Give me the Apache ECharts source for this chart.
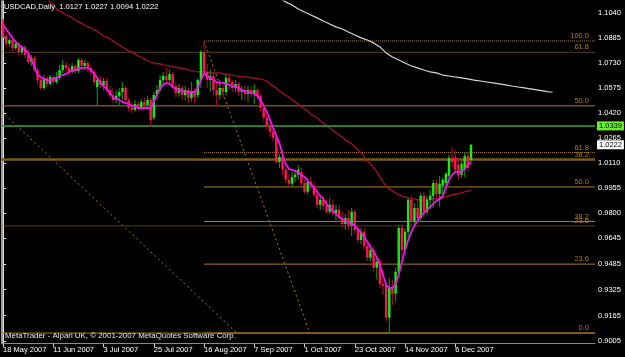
<!DOCTYPE html>
<html><head><meta charset="utf-8">
<script src="https://cdn.jsdelivr.net/npm/echarts@6/dist/echarts.min.js"></script>
<style>html,body{margin:0;padding:0;background:#000;}#c{width:625px;height:357px;}</style>
</head><body><div id="c"></div>
<script>
// ---- x axis (bar index -> date label) ----
const dateLabels = ['18 May 2007','11 Jun 2007','3 Jul 2007','25 Jul 2007','16 Aug 2007','7 Sep 2007','1 Oct 2007','23 Oct 2007','14 Nov 2007','6 Dec 2007'];
const dateLabelBars = [0,16,32,48,64,80,96,112,128,144];
const priceTicks = [0.9005,0.9165,0.9325,0.9485,0.9645,0.9800,0.9955,1.0110,1.0265,1.0420,1.0575,1.0730,1.0885,1.1040];

// ---- daily candles USDCAD ----
const open = [
1.0983,1.0896,1.0847,1.0871,1.0822,1.0847,1.0797,1.0828,1.0778,1.0735,
1.0760,1.0685,1.0623,1.0574,1.0636,1.0599,1.0642,1.0611,1.0636,1.0685,
1.0716,1.0698,1.0673,1.0710,1.0679,1.0747,1.0710,1.0729,1.0698,1.0673,
1.0580,1.0623,1.0593,1.0617,1.0562,1.0531,1.0500,1.0525,1.0549,1.0574,
1.0500,1.0450,1.0438,1.0475,1.0457,1.0488,1.0469,1.0500,1.0389,1.0531,
1.0562,1.0623,1.0648,1.0623,1.0661,1.0586,1.0543,1.0574,1.0531,1.0562,
1.0512,1.0549,1.0531,1.0623,1.0797,1.0673,1.0623,1.0648,1.0562,1.0531,
1.0574,1.0549,1.0636,1.0611,1.0574,1.0599,1.0549,1.0562,1.0537,1.0562,
1.0537,1.0562,1.0525,1.0450,1.0389,1.0339,1.0302,1.0265,1.0116,1.0147,
1.0067,1.0005,0.9980,1.0023,1.0036,1.0054,0.9986,0.9931,0.9993,0.9968,
0.9912,0.9850,0.9881,0.9844,0.9807,0.9850,0.9800,0.9819,0.9769,0.9732,
0.9769,0.9720,0.9807,0.9695,0.9633,0.9683,0.9596,0.9522,0.9571,0.9460,
0.9497,0.9361,0.9349,0.9151,0.9336,0.9299,0.9435,0.9707,0.9571,0.9683,
0.9881,0.9745,0.9831,0.9769,0.9906,0.9807,0.9881,0.9906,0.9986,0.9918,
0.9968,0.9986,1.0030,1.0141,1.0141,1.0098,1.0036,1.0067,1.0153,1.0127];
const close = [
1.0896,1.0847,1.0871,1.0822,1.0847,1.0797,1.0828,1.0778,1.0735,1.0760,
1.0685,1.0623,1.0574,1.0636,1.0599,1.0642,1.0611,1.0636,1.0685,1.0716,
1.0698,1.0673,1.0710,1.0679,1.0747,1.0710,1.0729,1.0698,1.0673,1.0611,
1.0623,1.0593,1.0617,1.0562,1.0531,1.0500,1.0525,1.0549,1.0574,1.0500,
1.0450,1.0438,1.0475,1.0457,1.0488,1.0469,1.0500,1.0376,1.0531,1.0562,
1.0623,1.0648,1.0623,1.0661,1.0586,1.0543,1.0574,1.0531,1.0562,1.0512,
1.0549,1.0518,1.0623,1.0797,1.0673,1.0623,1.0648,1.0562,1.0531,1.0574,
1.0549,1.0636,1.0611,1.0574,1.0599,1.0549,1.0562,1.0537,1.0562,1.0537,
1.0562,1.0525,1.0450,1.0389,1.0339,1.0302,1.0265,1.0116,1.0147,1.0067,
1.0005,0.9980,1.0023,1.0036,1.0067,0.9986,0.9931,0.9993,0.9968,0.9912,
0.9850,0.9881,0.9844,0.9807,0.9850,0.9800,0.9819,0.9769,0.9732,0.9769,
0.9720,0.9807,0.9695,0.9633,0.9683,0.9596,0.9522,0.9571,0.9460,0.9497,
0.9361,0.9349,0.9151,0.9336,0.9299,0.9435,0.9707,0.9571,0.9683,0.9881,
0.9745,0.9831,0.9769,0.9906,0.9807,0.9881,0.9906,0.9986,0.9918,0.9980,
1.0005,1.0042,1.0141,1.0116,1.0067,1.0030,1.0104,1.0153,1.0079,1.0222];
const high = [
1.1001,1.0909,1.0884,1.0884,1.0871,1.0859,1.0840,1.0840,1.0809,1.0778,
1.0772,1.0698,1.0648,1.0654,1.0648,1.0654,1.0654,1.0673,1.0716,1.0747,
1.0735,1.0723,1.0729,1.0723,1.0760,1.0760,1.0747,1.0741,1.0710,1.0685,
1.0642,1.0648,1.0636,1.0636,1.0586,1.0574,1.0562,1.0574,1.0611,1.0586,
1.0512,1.0488,1.0500,1.0494,1.0506,1.0512,1.0525,1.0512,1.0549,1.0593,
1.0654,1.0673,1.0698,1.0685,1.0673,1.0611,1.0599,1.0586,1.0586,1.0574,
1.0611,1.0574,1.0636,1.0809,1.0865,1.0723,1.0685,1.0673,1.0611,1.0623,
1.0599,1.0661,1.0667,1.0623,1.0623,1.0611,1.0586,1.0593,1.0586,1.0586,
1.0599,1.0574,1.0537,1.0475,1.0413,1.0364,1.0327,1.0296,1.0166,1.0191,
1.0098,1.0036,1.0054,1.0067,1.0098,1.0079,1.0005,1.0017,1.0023,0.9993,
0.9955,0.9906,0.9906,0.9881,0.9893,0.9881,0.9850,0.9850,0.9807,0.9794,
0.9819,0.9831,0.9819,0.9720,0.9707,0.9707,0.9621,0.9602,0.9596,0.9522,
0.9522,0.9448,0.9367,0.9398,0.9386,0.9460,0.9720,0.9732,0.9707,0.9893,
0.9906,0.9862,0.9881,0.9924,0.9931,0.9906,0.9943,1.0005,1.0005,1.0030,
1.0017,1.0054,1.0160,1.0209,1.0191,1.0141,1.0129,1.0178,1.0178,1.0227];
const low = [
1.0884,1.0828,1.0828,1.0803,1.0809,1.0778,1.0778,1.0760,1.0723,1.0710,
1.0673,1.0599,1.0562,1.0562,1.0580,1.0586,1.0593,1.0599,1.0623,1.0667,
1.0673,1.0648,1.0661,1.0661,1.0667,1.0692,1.0685,1.0673,1.0648,1.0593,
1.0469,1.0574,1.0562,1.0549,1.0512,1.0481,1.0481,1.0469,1.0500,1.0475,
1.0432,1.0419,1.0426,1.0432,1.0438,1.0444,1.0450,1.0333,1.0376,1.0500,
1.0549,1.0599,1.0605,1.0599,1.0574,1.0518,1.0518,1.0500,1.0500,1.0481,
1.0488,1.0481,1.0512,1.0574,1.0648,1.0574,1.0549,1.0531,1.0457,1.0500,
1.0512,1.0525,1.0562,1.0549,1.0549,1.0525,1.0500,1.0500,1.0488,1.0512,
1.0475,1.0500,1.0426,1.0364,1.0314,1.0271,1.0240,1.0104,1.0079,1.0036,
0.9986,0.9962,0.9962,0.9993,1.0005,0.9968,0.9918,0.9912,0.9943,0.9893,
0.9831,0.9819,0.9819,0.9794,0.9794,0.9782,0.9757,0.9745,0.9707,0.9695,
0.9695,0.9658,0.9670,0.9615,0.9608,0.9571,0.9503,0.9497,0.9435,0.9386,
0.9336,0.9293,0.9126,0.9056,0.9231,0.9250,0.9398,0.9522,0.9540,0.9646,
0.9707,0.9720,0.9745,0.9745,0.9769,0.9788,0.9819,0.9831,0.9893,0.9838,
0.9893,0.9962,0.9986,1.0085,1.0048,1.0005,1.0017,1.0023,1.0054,1.0094];

// ---- moving averages as drawn ----
const maFast = [
1.0964,1.0939,1.0909,1.0884,1.0859,1.0840,1.0828,1.0809,1.0791,1.0747,
1.0704,1.0654,1.0642,1.0630,1.0623,1.0623,1.0630,1.0636,1.0648,1.0654,
1.0661,1.0673,1.0679,1.0685,1.0692,1.0698,1.0698,1.0698,1.0685,1.0661,
1.0636,1.0605,1.0586,1.0568,1.0543,1.0518,1.0506,1.0500,1.0488,1.0481,
1.0475,1.0463,1.0457,1.0450,1.0450,1.0450,1.0450,1.0444,1.0488,1.0531,
1.0574,1.0593,1.0605,1.0599,1.0580,1.0568,1.0562,1.0556,1.0549,1.0549,
1.0549,1.0549,1.0574,1.0623,1.0667,1.0648,1.0636,1.0623,1.0611,1.0605,
1.0605,1.0599,1.0593,1.0586,1.0580,1.0574,1.0562,1.0556,1.0549,1.0543,
1.0537,1.0525,1.0500,1.0463,1.0426,1.0376,1.0327,1.0277,1.0234,1.0160,
1.0104,1.0073,1.0067,1.0061,1.0048,1.0036,1.0023,0.9999,0.9980,0.9955,
0.9931,0.9906,0.9887,0.9856,0.9831,0.9813,0.9794,0.9776,0.9763,0.9751,
0.9745,0.9732,0.9720,0.9701,0.9677,0.9652,0.9621,0.9590,0.9559,0.9528,
0.9478,0.9417,0.9355,0.9336,0.9336,0.9361,0.9417,0.9497,0.9571,0.9633,
0.9683,0.9720,0.9751,0.9782,0.9800,0.9819,0.9838,0.9856,0.9875,0.9887,
0.9906,0.9955,1.0005,1.0036,1.0054,1.0054,1.0054,1.0073,1.0098,1.0116];
const maMid = [
null,null,null,null,null,null,null,null,null,null,
null,null,null,null,1.1125,1.1107,1.1088,1.1063,1.1051,1.1039,
1.1026,1.1020,1.1008,1.0995,1.0983,1.0977,1.0964,1.0952,1.0946,1.0933,
1.0927,1.0909,1.0896,1.0890,1.0878,1.0865,1.0853,1.0840,1.0828,1.0816,
1.0803,1.0797,1.0785,1.0772,1.0766,1.0754,1.0741,1.0735,1.0729,1.0723,
1.0723,1.0716,1.0716,1.0710,1.0704,1.0704,1.0698,1.0692,1.0692,1.0685,
1.0679,1.0679,1.0673,1.0673,1.0673,1.0673,1.0667,1.0667,1.0667,1.0667,
1.0661,1.0661,1.0654,1.0654,1.0648,1.0648,1.0642,1.0642,1.0642,1.0636,
1.0636,1.0630,1.0630,1.0623,1.0617,1.0599,1.0586,1.0574,1.0556,1.0543,
1.0531,1.0518,1.0500,1.0488,1.0475,1.0457,1.0444,1.0432,1.0413,1.0401,
1.0389,1.0370,1.0358,1.0339,1.0327,1.0314,1.0296,1.0283,1.0271,1.0252,
1.0240,1.0228,1.0209,1.0191,1.0172,1.0147,1.0123,1.0104,1.0079,1.0054,
1.0023,0.9993,0.9968,0.9949,0.9937,0.9924,0.9912,0.9906,0.9900,0.9893,
0.9887,0.9887,0.9881,0.9881,0.9881,0.9881,0.9881,0.9887,0.9887,0.9887,
0.9893,0.9900,0.9906,0.9912,0.9918,0.9918,0.9924,0.9931,0.9937,0.9937];
const maSlowBars = [89,90,92,94,96,98,100,102,104,106,108,110,112,114,116,118,120,122,124,126,128,130,132,134,136,138,140,142,144,146,148,150,152,154,156,158,160,162,164,166,168,170,172,174,175];
const maSlowVals = [1.1119,1.1107,1.1088,1.1063,1.1044,1.1026,1.1008,1.0989,1.0970,1.0952,1.0939,1.0921,1.0902,1.0884,1.0871,1.0853,1.0828,1.0791,1.0766,1.0747,1.0729,1.0710,1.0698,1.0685,1.0673,1.0667,1.0654,1.0648,1.0642,1.0636,1.0630,1.0623,1.0617,1.0611,1.0605,1.0599,1.0593,1.0586,1.0580,1.0574,1.0568,1.0562,1.0556,1.0549,1.0549];

// ---- drawn objects ----
const fibALabels = ['100.0','61.8','50.0','38.2','23.6','0.0'];
const fibAValues = [1.0865,1.0174,0.9961,0.9747,0.9483,0.9056];
const fibAStartBar = 64;
const fibBLabels = ['61.8','50.0','38.2','23.6',''];
const fibBValues = [1.0795,1.0463,1.0131,0.9720,0.9056];
const trendA = [[64,1.0865],[97.7,0.9056]];
const trendB = [[-0.5,1.0429],[74.5,0.9056]];
const hLineValue = 1.0339;
const lastPrice = 1.0222;
const titleText = 'USDCAD,Daily  1.0127 1.0227 1.0094 1.0222';
const footerText = 'MetaTrader - Alpari UK, \u00a9 2001-2007 MetaQuotes Software Corp.';

const FONT = 'Liberation Sans, Arial, sans-serif';
const FIB = '#a87c1c';
const X_END = 188.5;
const candleData = open.map((o, i) => [i, o, close[i], low[i], high[i]]);

function levelSeries(startBar, v, text, style) {
  return {
    type: 'line', silent: true, showSymbol: false, symbol: 'none', clip: false, z: 1,
    data: [[startBar, v], [X_END, v]],
    lineStyle: style,
    markPoint: text ? {
      silent: true, symbol: 'circle', symbolSize: 0,
      data: [{coord: [X_END, v]}],
      label: {show: true, position: 'left', offset: [-1, -5], formatter: text, color: FIB, fontSize: 7.5, fontFamily: FONT}
    } : undefined
  };
}

const drawSeries = [];
fibAValues.forEach((v, k) => {
  drawSeries.push(levelSeries(fibAStartBar, v, fibALabels[k],
    {color: FIB, width: 1, type: (k <= 1) ? 'dotted' : 'solid'}));
});
fibBValues.forEach((v, k) => {
  drawSeries.push(levelSeries(-0.5, v, fibBLabels[k],
    {color: k === 2 ? '#7a5a12' : FIB, width: k === 2 ? 2.5 : 1, type: (k === 0 || k === 3) ? 'dotted' : 'solid'}));
});
[trendA, trendB].forEach(t => {
  drawSeries.push({type: 'line', silent: true, showSymbol: false, symbol: 'none', z: 1, data: t,
    lineStyle: {color: FIB, width: 1, type: [2, 3]}});
});
function priceTag(v, bg, lineStyle) {
  return {
    type: 'line', silent: true, showSymbol: false, symbol: 'none', z: 3, clip: false,
    data: [[-0.5, v], [X_END, v]], lineStyle: lineStyle,
    markPoint: {silent: true, symbol: 'circle', symbolSize: 0, data: [{coord: [X_END, v]}],
      label: {show: true, position: 'right', distance: 2, formatter: v.toFixed(4), backgroundColor: bg, color: '#000',
        padding: [1, 2, 0, 2], fontSize: 7.5, fontFamily: FONT}}
  };
}
drawSeries.push(priceTag(hLineValue, '#6cf02a', {color: '#3aa82e', width: 1.5}));
drawSeries.push(priceTag(lastPrice, '#ffffff', {width: 0, opacity: 0}));

const chart = echarts.init(document.getElementById('c'), null, {renderer: 'canvas'});
chart.setOption({
  animation: false,
  backgroundColor: '#000000',
  title: [
    {text: titleText, left: 4, top: 3, padding: 0, textStyle: {color: '#ffffff', fontSize: 7.6, fontWeight: 'normal', fontFamily: FONT}},
    {text: footerText, left: 5, top: 332, padding: 0, textStyle: {color: '#e8e8e8', fontSize: 7.9, fontWeight: 'normal', fontFamily: FONT}}
  ],
  grid: {left: 1.5, right: 30, top: 1, bottom: 13.5},
  xAxis: {
    type: 'value', min: -0.5, max: X_END,
    axisLine: {show: true, lineStyle: {color: '#8a8a8a', width: 1}},
    axisTick: {show: true, customValues: dateLabelBars, length: 4, lineStyle: {color: '#d0d0d0'}},
    axisLabel: {show: true, customValues: dateLabelBars, formatter: v => dateLabels[dateLabelBars.indexOf(Math.round(v))],
      align: 'left', margin: 2, color: '#ffffff', fontSize: 7.5, fontFamily: FONT},
    splitLine: {show: false}
  },
  yAxis: [{
    type: 'value', position: 'right', min: 0.89914, max: 1.11125, scale: true,
    axisLine: {show: true, lineStyle: {color: '#e0e0e0', width: 1}},
    axisTick: {show: true, customValues: priceTicks, length: 3, lineStyle: {color: '#e0e0e0'}},
    axisLabel: {show: true, customValues: priceTicks, formatter: v => v.toFixed(4), margin: 3, color: '#ffffff', fontSize: 7.5, fontFamily: FONT},
    splitLine: {show: false}
  }, {
    type: 'value', position: 'left', min: 0, max: 1,
    axisLine: {show: true, lineStyle: {color: '#9a9a9a', width: 2}},
    axisTick: {show: false}, axisLabel: {show: false}, splitLine: {show: false}
  }],
  series: drawSeries.concat([
    {
      type: 'line', name: 'maSlow', data: maSlowBars.map((b, k) => [b, maSlowVals[k]]), z: 2,
      showSymbol: false, symbol: 'none', clip: true, lineStyle: {color: '#d8d8d8', width: 1.2}
    },
    {
      type: 'line', name: 'maMid', data: maMid.map((v, i) => [i, v]), z: 2,
      showSymbol: false, symbol: 'none', clip: true, lineStyle: {color: '#b0102c', width: 1.2}
    },
    {
      type: 'custom', name: 'USDCAD', data: candleData, clip: true, z: 4,
      dimensions: ['i', 'open', 'close', 'low', 'high'],
      encode: {x: 0, y: [1, 2, 3, 4]},
      renderItem: function (params, api) {
        const i = api.value(0), o = api.value(1), c = api.value(2), l = api.value(3), h = api.value(4);
        const pO = api.coord([i, o]), pC = api.coord([i, c]), pL = api.coord([i, l]), pH = api.coord([i, h]);
        const up = c >= o;
        const w = 2.4;
        const top = Math.min(pO[1], pC[1]), bot = Math.max(pO[1], pC[1]);
        return {type: 'group', children: [
          {type: 'line', shape: {x1: pO[0], y1: pH[1], x2: pO[0], y2: pL[1]}, style: {stroke: up ? '#0c8a0c' : '#9a0c24', lineWidth: 1.2}},
          {type: 'rect', shape: {x: pO[0] - w / 2, y: top, width: w, height: Math.max(1, bot - top)}, style: {fill: up ? '#14ee14' : '#ff1452'}}
        ]};
      }
    },
    {
      type: 'line', name: 'maFast', data: maFast.map((v, i) => [i, v]), z: 5,
      showSymbol: false, symbol: 'none', clip: true, lineStyle: {color: '#f012f0', width: 1.8}
    }
  ])
});
</script></body></html>
